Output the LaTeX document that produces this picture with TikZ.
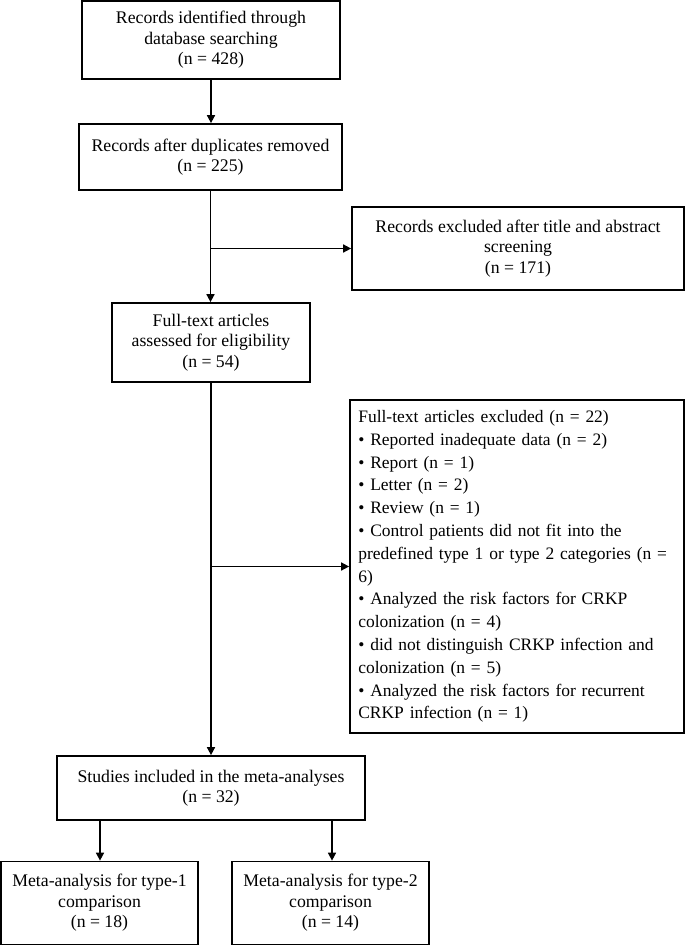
\documentclass[tikz,border=0pt]{standalone}
\usepackage{fontspec}
\setmainfont{Liberation Serif}
\usetikzlibrary{arrows.meta}
\tikzset{
  box/.style={draw=black, line width=1.3pt, fill=white, align=center, inner sep=2pt,
    font=\fontsize{13.3}{15.4}\selectfont},
  sz/.style 2 args={minimum width=#1*0.75pt, minimum height=#2*0.75pt},
  conn/.style={line width=1.2pt, -{Triangle[length=6pt,width=6pt]}}
}
\begin{document}
\begin{tikzpicture}[x=0.75pt,y=-0.75pt]
\useasboundingbox (0,0) rectangle (685,946);
\node[box, sz={258}{78}] (A) at (211,40) {Records identified through\\database searching\\(n = 428)};
\node[box, sz={263}{66}] (B) at (210.5,157) {Records after duplicates removed\\(n = 225)};
\node[box, sz={332}{83}] (C) at (518,248.5) {Records excluded after title and abstract\\screening\\(n = 171)};
\node[box, sz={198}{79}] (D) at (211,342.5) {Full-text articles\\assessed for eligibility\\(n = 54)};
\node[box, sz={334}{333}, align=left, text width=238pt, inner xsep=6.25pt,
  font=\fontsize{13.1}{17.1}\selectfont] (E) at (517,566.5) {Full-text articles excluded (n = 22)\\
• Reported inadequate data (n = 2)\\
• Report (n = 1)\\
• Letter (n = 2)\\
• Review (n = 1)\\
• Control patients did not fit into the\\
predefined type 1 or type 2 categories (n =\\
6)\\
• Analyzed the risk factors for CRKP\\
colonization (n = 4)\\
• did not distinguish CRKP infection and\\
colonization (n = 5)\\
• Analyzed the risk factors for recurrent\\
CRKP infection (n = 1)};
\node[box, sz={308}{64}] (F) at (211,788) {Studies included in the meta-analyses\\(n = 32)};
\node[box, sz={197}{83}] (G) at (99.5,903) {Meta-analysis for type-1\\comparison\\(n = 18)};
\node[box, sz={197}{83}] (H) at (330.5,903) {Meta-analysis for type-2\\comparison\\(n = 14)};
\draw[conn] (A.south) -- (A.south |- B.north);
\draw[conn] (B.south) -- (B.south |- D.north);
\coordinate (b1) at (B.south |- C.west);
\draw[conn] (b1) -- (C.west);
\draw[conn] (D.south) -- (D.south |- F.north);
\coordinate (b2) at (D.south |- E.west);
\draw[conn] (b2) -- (E.west);
\coordinate (f1) at (100,820);
\coordinate (f2) at (332,820);
\draw[conn] (f1 |- F.south) -- (f1 |- G.north);
\draw[conn] (f2 |- F.south) -- (f2 |- H.north);
\end{tikzpicture}
\end{document}
